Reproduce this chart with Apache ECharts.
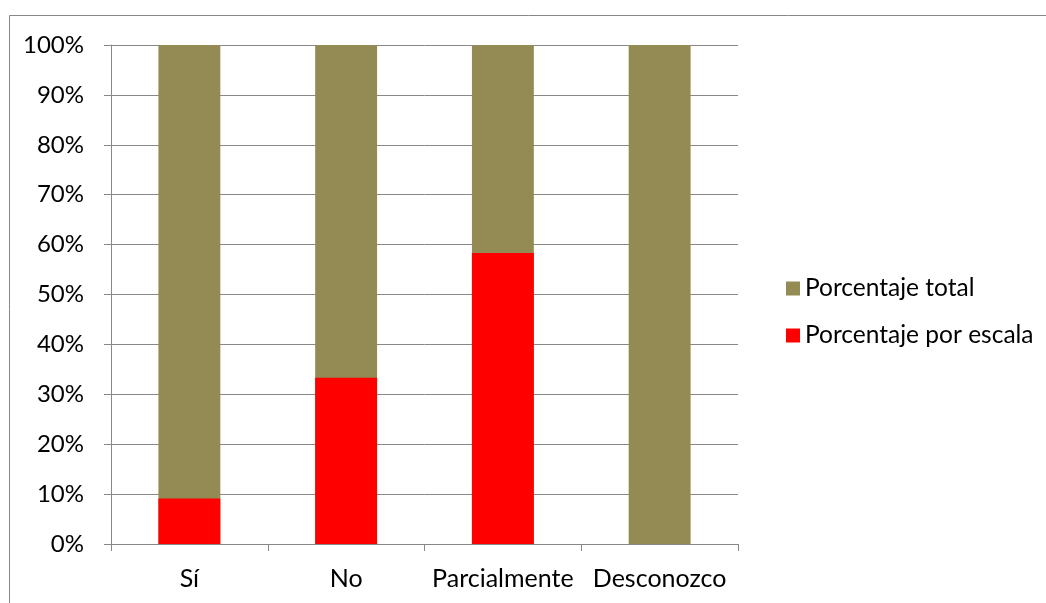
<!DOCTYPE html>
<html><head><meta charset="utf-8">
<script src="https://cdn.jsdelivr.net/npm/echarts@6/dist/echarts.min.js"></script>
<style>html,body{margin:0;padding:0;background:#fff}#c{width:1046px;height:603px}</style>
</head><body><div id="c"></div>
<script>
const categories = ['Sí', 'No', 'Parcialmente', 'Desconozco'];
const totalValues = [100, 100, 100, 100];
const scaleValues = [9.1, 33.3, 58.3, 0];
const seriesNames = ['Porcentaje total', 'Porcentaje por escala'];

const chart = echarts.init(document.getElementById('c'));
const font = 'Lato, sans-serif';
chart.setOption({
  animation: false,
  textStyle: { fontFamily: font },
  graphic: [{
    type: 'rect', shape: { x: 9.5, y: 15.5, width: 1100, height: 700 },
    style: { fill: 'none', stroke: '#888', lineWidth: 1 }, silent: true, z: -10
  }],
  grid: { left: 111, top: 45, width: 627, height: 499 },
  legend: {
    orient: 'vertical', left: 781, top: 271, itemGap: 22,
    itemWidth: 14, itemHeight: 14, icon: 'rect',
    textStyle: { fontSize: 24.5, color: '#000', fontFamily: font },
    data: seriesNames
  },
  xAxis: {
    type: 'category', data: categories,
    axisLine: { lineStyle: { color: '#888', width: 1 } },
    axisTick: { show: true, length: 7, alignWithLabel: false, lineStyle: { color: '#888' } },
    axisLabel: { color: '#000', fontSize: 25, margin: 22, interval: 0, fontFamily: font }
  },
  yAxis: {
    type: 'value', min: 0, max: 100, interval: 10,
    axisLine: { show: true, lineStyle: { color: '#888' } },
    axisTick: { show: true, length: 7, inside: false, lineStyle: { color: '#888' } },
    splitLine: { lineStyle: { color: '#888', width: 1 } },
    axisLabel: { color: '#000', fontSize: 24, margin: 27, formatter: '{value}%', fontFamily: font }
  },
  series: [
    { name: seriesNames[0], type: 'bar', data: totalValues, barWidth: '39.5%', barGap: '-100%',
      itemStyle: { color: '#948A54' } },
    { name: seriesNames[1], type: 'bar', data: scaleValues, barWidth: '39.5%', barGap: '-100%',
      itemStyle: { color: '#FF0000' } }
  ]
});
</script></body></html>
